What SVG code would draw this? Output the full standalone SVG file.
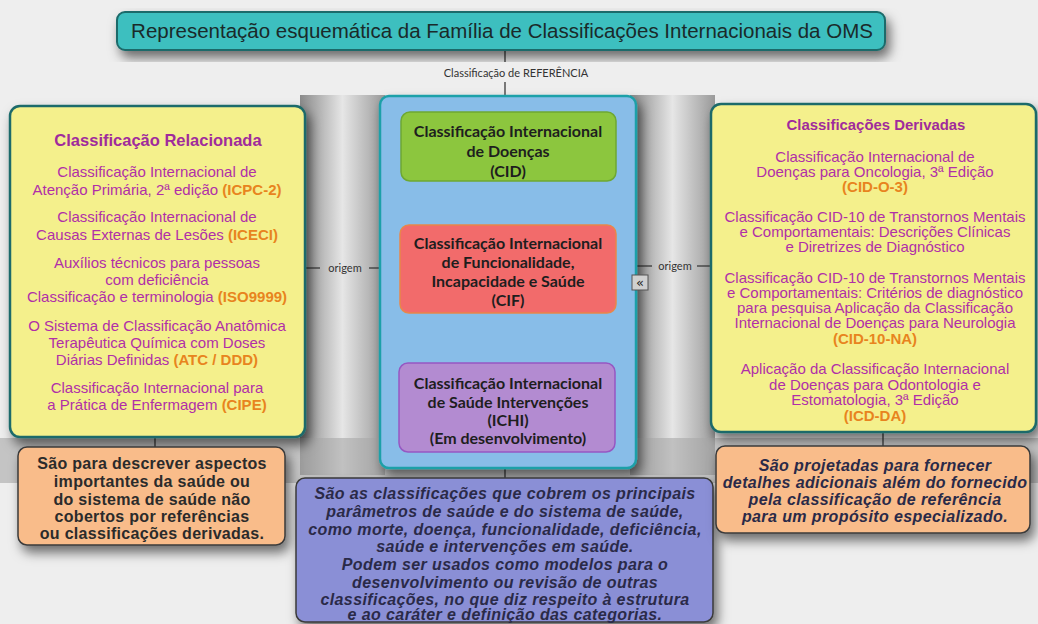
<svg xmlns="http://www.w3.org/2000/svg" width="1038" height="624" viewBox="0 0 1038 624">
<defs>
<filter id="sh" x="-10%" y="-10%" width="130%" height="140%">
<feDropShadow dx="4" dy="7" stdDeviation="6" flood-color="#000" flood-opacity="0.55"/>
</filter>
<linearGradient id="gut" x1="0" y1="0" x2="1" y2="0">
<stop offset="0" stop-color="#8a8a8a"/><stop offset="0.5" stop-color="#e6e6e6"/><stop offset="1" stop-color="#9a9a9a"/>
</linearGradient>
<style>
.hd{font-family:"Liberation Sans",Arial,sans-serif;}
.yt{font-family:"Liberation Sans",Arial,sans-serif;font-size:15px;fill:#b02fa8;text-anchor:middle;}
.yh{font-family:"Liberation Sans",Arial,sans-serif;font-size:16.5px;font-weight:bold;fill:#a02b9c;text-anchor:middle;}
.or{fill:#e8841e;font-weight:bold;}
.ct{font-family:Lato,"Open Sans",sans-serif;font-size:16px;font-weight:bold;fill:#1e1e1e;text-anchor:middle;}
.nt{font-family:"Liberation Sans",Arial,sans-serif;font-size:16px;letter-spacing:0.3px;font-weight:bold;fill:#2b2b2b;text-anchor:middle;}
.it{font-family:"Liberation Sans",Arial,sans-serif;font-size:16px;letter-spacing:0.4px;font-weight:bold;font-style:italic;fill:#2a2a48;text-anchor:middle;}
.ln{stroke:#3a3a3a;stroke-width:1.3;fill:none;}
.lb{font-family:Lato,"Open Sans",sans-serif;font-size:11px;fill:#333;text-anchor:middle;}
</style>
</defs>
<rect x="0" y="0" width="1038" height="624" fill="#eeeeee"/>
<rect x="300" y="95" width="85" height="380" fill="url(#gut)"/>
<rect x="630" y="95" width="85" height="380" fill="url(#gut)"/>
<rect x="0" y="438" width="1038" height="45" fill="#a8a8a8" opacity="0.6"/>

<g id="connectors">
<line class="ln" x1="505" y1="50" x2="505" y2="62"/>
<line class="ln" x1="505" y1="82" x2="505" y2="96"/>
<line class="ln" x1="508" y1="181" x2="508" y2="225"/>
<line class="ln" x1="508" y1="313" x2="508" y2="363"/>
<line class="ln" x1="155" y1="437" x2="155" y2="447"/>
<line class="ln" x1="505" y1="468" x2="505" y2="478"/>
<line class="ln" x1="883" y1="432" x2="883" y2="446"/>
<line class="ln" x1="305" y1="268" x2="320" y2="268"/>
<line class="ln" x1="369" y1="268" x2="381" y2="268"/>
<line class="ln" x1="636" y1="266" x2="652" y2="266"/>
<line class="ln" x1="697" y1="266" x2="711" y2="266"/>
<text class="lb" x="345" y="272">origem</text>
<text class="lb" x="675" y="270">origem</text>
<text class="lb" x="516" y="77">Classificação de REFERÊNCIA</text>
</g>

<g id="title">
<rect x="117" y="12" width="768" height="38" rx="8" fill="#3cbfbf" stroke="#1d6a6a" stroke-width="2" filter="url(#sh)"/>
<text class="hd" x="502" y="38" font-size="20.5" fill="#1a2a2a" text-anchor="middle">Representação esquemática da Família de Classificações Internacionais da OMS</text>
</g>

<g id="related">
<rect x="10" y="106" width="295" height="331" rx="10" fill="#f4f08c" stroke="#1f6b6b" stroke-width="2.5" filter="url(#sh)"/>
<text class="yh" x="158" y="146">Classificação Relacionada</text>
<text class="yt" x="157" y="177">Classificação Internacional de</text>
<text class="yt" x="157" y="195">Atenção Primária, 2ª edição <tspan class="or">(ICPC-2)</tspan></text>
<text class="yt" x="157" y="222">Classificação Internacional de</text>
<text class="yt" x="157" y="240">Causas Externas de Lesões <tspan class="or">(ICECI)</tspan></text>
<text class="yt" x="157" y="268">Auxílios técnicos para pessoas</text>
<text class="yt" x="157" y="285">com deficiência</text>
<text class="yt" x="157" y="302">Classificação e terminologia <tspan class="or">(ISO9999)</tspan></text>
<text class="yt" x="157" y="331">O Sistema de Classificação Anatômica</text>
<text class="yt" x="157" y="348">Terapêutica Química com Doses</text>
<text class="yt" x="157" y="365">Diárias Definidas <tspan class="or">(ATC / DDD)</tspan></text>
<text class="yt" x="157" y="393">Classificação Internacional para</text>
<text class="yt" x="157" y="410">a Prática de Enfermagem <tspan class="or">(CIPE)</tspan></text>
</g>

<g id="reference">
<rect x="380" y="96" width="256" height="372" rx="9" fill="#88bde8" stroke="#1fa0a8" stroke-width="2.5" filter="url(#sh)"/>
</g>

<g id="cid">
<rect x="401" y="112" width="215" height="69" rx="9" fill="#8cc63e" stroke="#6ea832" stroke-width="1.5"/>
<text class="ct" x="508" y="137">Classificação Internacional</text>
<text class="ct" x="508" y="157">de Doenças</text>
<text class="ct" x="508" y="177">(CID)</text>
</g>

<g id="cif">
<rect x="400" y="225" width="216" height="88" rx="9" fill="#f26b6b" stroke="#e8874a" stroke-width="1.5"/>
<text class="ct" x="508" y="249">Classificação Internacional</text>
<text class="ct" x="508" y="268">de Funcionalidade,</text>
<text class="ct" x="508" y="287">Incapacidade e Saúde</text>
<text class="ct" x="508" y="306">(CIF)</text>
</g>

<g id="ichi">
<rect x="399" y="363" width="216" height="89" rx="9" fill="#b38bd1" stroke="#9657c2" stroke-width="1.5"/>
<text class="ct" x="508" y="389">Classificação Internacional</text>
<text class="ct" x="508" y="408">de Saúde Intervenções</text>
<text class="ct" x="508" y="426">(ICHI)</text>
<text class="ct" x="508" y="444">(Em desenvolvimento)</text>
</g>

<g id="toggle">
<rect x="632" y="275" width="16" height="15" fill="#d0d0d0" stroke="#555" stroke-width="1"/>
<text x="640" y="287" font-family="'DejaVu Sans',sans-serif" font-size="13" fill="#222" text-anchor="middle">«</text>
</g>

<g id="derived">
<rect x="711" y="104" width="325" height="328" rx="10" fill="#f4f08c" stroke="#1f6b6b" stroke-width="2.5" filter="url(#sh)"/>
<text class="yh" x="876" y="130" style="font-size:14.9px">Classificações Derivadas</text>
<text class="yt" x="875" y="162">Classificação Internacional de</text>
<text class="yt" x="875" y="177">Doenças para Oncologia, 3ª Edição</text>
<text class="yt or" x="875" y="192">(CID-O-3)</text>
<text class="yt" x="875" y="222">Classificação CID-10 de Transtornos Mentais</text>
<text class="yt" x="875" y="237">e Comportamentais: Descrições Clínicas</text>
<text class="yt" x="875" y="252">e Diretrizes de Diagnóstico</text>
<text class="yt" x="875" y="283">Classificação CID-10 de Transtornos Mentais</text>
<text class="yt" x="875" y="298">e Comportamentais: Critérios de diagnóstico</text>
<text class="yt" x="875" y="313">para pesquisa Aplicação da Classificação</text>
<text class="yt" x="875" y="328">Internacional de Doenças para Neurologia</text>
<text class="yt or" x="875" y="344">(CID-10-NA)</text>
<text class="yt" x="875" y="374">Aplicação da Classificação Internacional</text>
<text class="yt" x="875" y="390">de Doenças para Odontologia e</text>
<text class="yt" x="875" y="405">Estomatologia, 3ª Edição</text>
<text class="yt or" x="875" y="421">(ICD-DA)</text>
</g>

<g id="related-note">
<rect x="18" y="447" width="267" height="98" rx="9" fill="#f9bc8a" stroke="#3a3a3a" stroke-width="1.5" filter="url(#sh)"/>
<text class="nt" x="152" y="469">São para descrever aspectos</text>
<text class="nt" x="152" y="487">importantes da saúde ou</text>
<text class="nt" x="152" y="505">do sistema de saúde não</text>
<text class="nt" x="152" y="522">cobertos por referências</text>
<text class="nt" x="152" y="539">ou classificações derivadas.</text>
</g>

<g id="reference-note">
<rect x="296" y="478" width="417" height="144" rx="9" fill="#8a8fd6" stroke="#3a3a3a" stroke-width="1.5" filter="url(#sh)"/>
<text class="it" x="505" y="499">São as classificações que cobrem os principais</text>
<text class="it" x="505" y="517">parâmetros de saúde e do sistema de saúde,</text>
<text class="it" x="505" y="535">como morte, doença, funcionalidade, deficiência,</text>
<text class="it" x="505" y="552">saúde e intervenções em saúde.</text>
<text class="it" x="505" y="570">Podem ser usados como modelos para o</text>
<text class="it" x="505" y="588">desenvolvimento ou revisão de outras</text>
<text class="it" x="505" y="605">classificações, no que diz respeito à estrutura</text>
<text class="it" x="505" y="620">e ao caráter e definição das categorias.</text>
</g>

<g id="derived-note">
<rect x="716" y="446" width="314" height="87" rx="9" fill="#f9bc8a" stroke="#3a3a3a" stroke-width="1.5" filter="url(#sh)"/>
<text class="it" x="875" y="471">São projetadas para fornecer</text>
<text class="it" x="875" y="488">detalhes adicionais além do fornecido</text>
<text class="it" x="875" y="505">pela classificação de referência</text>
<text class="it" x="875" y="522">para um propósito especializado.</text>
</g>
</svg>
